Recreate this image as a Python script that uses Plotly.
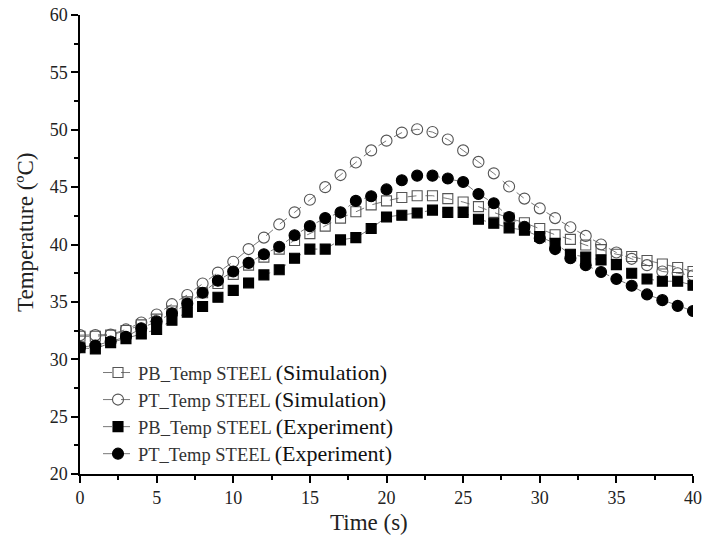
import plotly.graph_objects as go

time_s = list(range(0, 41))

pb_sim = [32.0, 32.0, 32.1, 32.5, 33.0, 33.5, 34.2, 35.0, 35.8, 36.6, 37.4, 38.2, 38.9, 39.6,
          40.35, 40.95, 41.6, 42.3, 42.85, 43.45, 43.8, 44.1, 44.25, 44.25, 44.0, 43.7, 43.3,
          42.8, 42.3, 41.9, 41.4, 40.85, 40.45, 39.95, 39.55, 39.15, 38.95, 38.6, 38.3, 38.0, 37.65]

pt_sim = [32.1, 32.1, 32.15, 32.6, 33.2, 33.9, 34.8, 35.6, 36.6, 37.55, 38.5, 39.6, 40.6, 41.75,
          42.8, 43.9, 45.0, 46.05, 47.15, 48.2, 49.05, 49.75, 50.05, 49.8, 49.15, 48.2, 47.2,
          46.2, 45.05, 44.0, 43.15, 42.3, 41.5, 40.75, 40.0, 39.3, 38.75, 38.2, 37.65, 37.5, 37.3]

pb_exp = [31.0, 30.9, 31.45, 31.8, 32.2, 32.6, 33.4, 34.1, 34.6, 35.4, 36.0, 36.65, 37.35, 37.8,
          38.8, 39.6, 39.6, 40.4, 40.6, 41.4, 42.4, 42.55, 42.75, 43.0, 42.8, 42.8, 42.2,
          41.85, 41.45, 41.25, 40.7, 40.1, 39.15, 38.9, 38.65, 38.25, 37.5, 37.0, 36.8, 36.8, 36.45]

pt_exp = [31.05, 31.2, 31.55, 31.95, 32.7, 33.3, 34.0, 34.85, 35.8, 36.85, 37.65, 38.4, 39.15, 39.8,
          40.8, 41.6, 42.3, 42.8, 43.8, 44.2, 44.8, 45.6, 46.0, 46.0, 45.75, 45.45, 44.4,
          43.6, 42.4, 41.55, 40.55, 39.6, 38.8, 38.2, 37.6, 37.0, 36.4, 35.65, 35.15, 34.65, 34.2]

series_labels = ["PB_Temp STEEL", "PT_Temp STEEL", "PB_Temp STEEL", "PT_Temp STEEL"]
series_kinds = ["(Simulation)", "(Simulation)", "(Experiment)", "(Experiment)"]

x_ticks = [0, 5, 10, 15, 20, 25, 30, 35, 40]
y_ticks = [20, 25, 30, 35, 40, 45, 50, 55, 60]

FONT = "Liberation Serif"
TXT = "#222222"

W, H = 705, 545
L, R, T, B = 80, 12, 15, 71
PW, PH = W - L - R, H - T - B

fig = go.Figure()
styles = [
    (pb_sim, "square-open", "#555555", 10),
    (pt_sim, "circle-open", "#555555", 11),
    (pb_exp, "square", "black", 10),
    (pt_exp, "circle", "black", 11),
]
for (vals, sym, col, sz), lab, kind in zip(styles, series_labels, series_kinds):
    name = lab + " <span style='font-size:22px;color:#111111'>" + kind + "</span>"
    fig.add_trace(go.Scatter(
        x=time_s, y=vals, name=name, mode="lines+markers",
        line=dict(color="#555555", width=0.8, dash="dash"),
        marker=dict(symbol=sym, size=sz, color=col, line=dict(color=col, width=1.1)),
    ))

axis_common = dict(
    showline=True, linecolor="black", linewidth=1.5, ticks="outside", ticklen=7,
    tickwidth=1.5, tickcolor="black", showgrid=False, zeroline=False, automargin=False,
    ticklabeloverflow="allow",
    tickfont=dict(family=FONT, size=18, color=TXT),
    minor=dict(ticks="outside", ticklen=4, tickwidth=1.5, tickcolor="black"),
)

fig.update_xaxes(range=[0, 40], tickvals=x_ticks, minor_dtick=2.5, **axis_common)
fig.update_yaxes(range=[20, 60], tickvals=y_ticks, minor_dtick=2.5, **axis_common)

# target positions in window pixels -> paper coordinates
def px_x(px):
    return (px - L) / PW

def px_y(py):
    return (H - B - py) / PH

fig.add_annotation(text="Time (s)", xref="paper", yref="paper", x=px_x(369),
                   y=px_y(522), xanchor="center", yanchor="middle", showarrow=False,
                   font=dict(family=FONT, size=23, color=TXT))
fig.add_annotation(text="Temperature (ºC)", xref="paper", yref="paper", x=px_x(25),
                   y=px_y(233), xanchor="center", yanchor="middle", textangle=-90,
                   showarrow=False, font=dict(family=FONT, size=23, color=TXT))

fig.update_layout(
    width=W, height=H,
    margin=dict(l=L, r=R, t=T, b=B),
    paper_bgcolor="white", plot_bgcolor="white",
    font=dict(family=FONT, color=TXT),
    showlegend=True,
    legend=dict(x=px_x(98), y=px_y(354), xanchor="left", yanchor="top",
                bgcolor="rgba(0,0,0,0)", font=dict(family=FONT, size=18.5, color="#333333"),
                tracegroupgap=0, itemwidth=30),
)

fig.write_html(
    "out.html",
    config={"displayModeBar": False},
    post_script="document.body.style.margin='0';document.body.style.overflow='hidden';",
)
